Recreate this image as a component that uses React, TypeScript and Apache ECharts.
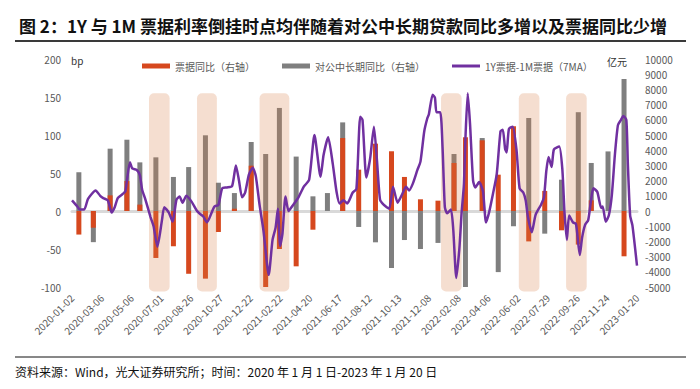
import React, { useEffect, useRef } from 'react';
import * as echarts from 'echarts';

// x axis: trading-day index, a label every 39 trading days
const xLabels = [
  '2020-01-02', '2020-03-06', '2020-05-06', '2020-07-01', '2020-08-26', '2020-10-27',
  '2020-12-22', '2021-02-22', '2021-04-20', '2021-06-17', '2021-08-12', '2021-10-13',
  '2021-12-08', '2022-02-08', '2022-04-06', '2022-06-02', '2022-07-29', '2022-09-26',
  '2022-11-24', '2023-01-20',
];
const labelStep = 39;
const lastIndex = 741;

// monthly bars (trading-day index of each monthly release)
const barIdx = [9, 28, 50, 72, 89, 110, 133, 153, 175, 192, 213, 235, 254, 272, 294, 316, 335, 355,
  376, 398, 419, 436, 457, 480, 501, 516, 538, 559, 579, 599, 620, 642, 664, 681, 703, 724];
// 票据同比（亿元）
const billYoY = [-1550, -1100, 1030, 1970, 420, -3090, -2320, -4130, -4450, -1380, 150, 2980,
  -5000, -2500, -3640, -1230, 0, 4800, 2720, 4430, 3930, 2240, 770, 680,
  3160, 4850, 4650, 2390, 5570, -2000, 1320, -1270, -2210, 700, 0, -2980];
// 对公中长期同比（亿元）
const loanYoY = [2550, -2050, 4100, 4690, 3200, 3530, 2240, 2890, 4980, 1860, 1180, 4540,
  3750, 6780, 3580, 965, 1180, 5830, -1050, -2060, -3750, -1910, -2500, -2100,
  3750, -5000, 4800, -4020, -1010, 6120, -1490, 2060, 6500, 3160, 3920, 8680];

// 1Y票据-1M票据（7MA），bp
const spreadIdx = [0, 7, 10, 16, 21, 31, 37, 41, 47, 52, 56, 60, 66, 70, 72, 76, 79, 85, 89, 92, 96,
  103, 107, 112, 118, 121, 127, 132, 137, 141, 145, 150, 157, 164, 168, 172, 177, 184, 187, 192, 197,
  203, 210, 215, 219, 223, 227, 232, 237, 241, 246, 251, 258, 263, 267, 270, 273, 276, 280, 284, 290,
  297, 304, 311, 318, 326, 330, 336, 342, 347, 351, 356, 361, 368, 373, 378, 381, 386, 391, 396, 400,
  404, 409, 416, 421, 427, 433, 438, 442, 447, 453, 457, 462, 466, 468, 473, 476, 478, 483, 486, 489,
  492, 497, 500, 504, 508, 511, 514, 516, 519, 522, 526, 529, 534, 539, 543, 547, 552, 557, 562, 565,
  568, 570, 573, 578, 583, 587, 592, 595, 598, 603, 608, 615, 619, 622, 625, 629, 632, 639, 643, 646,
  649, 652, 657, 661, 666, 669, 673, 677, 684, 689, 694, 696, 700, 704, 708, 712, 716, 720, 723, 727,
  729, 732, 735, 741];
const spreadVal = [14, 6, 2, 2, 16, 27, 20, 17, 14, -2, 5, 17, 22, 26, 40, 64, 56, 54, 47, 28, 16,
  -8, -20, -47, -12, 5, -2, -14, 15, 19, 11, 20, 12, 0, -4, -7, -15, 0, 6, 8, 30,
  31, 33, 60, 40, 18, 24, 48, 57, 46, 8, -25, -84, -38, -22, 3, -46, -30, 19, 0, 8,
  18, 32, 41, 100, 45, 74, 97, 62, 25, 10, 14, 10, 24, 29, 124, 120, 44, 69, 111, 66,
  15, 8, 3, 32, 11, 22, 32, 27, 36, 54, 65, 105, 122, 127, 153, 149, 130, 130, 83, 5,
  -3, 2, -24, -88, -50, -2, 35, 96, 155, 115, 40, 31, 38, 26, -15, -2, 22, 48, 105, 107,
  82, 77, 108, 111, 80, 30, 24, 14, -8, -28, -5, 8, 18, 52, 71, 58, 81, 85, 56, -3,
  -38, -6, -15, -17, -58, -35, -18, -12, 30, 25, 4, 6, -14, -6, 21, 74, 113, 120, 125, 120,
  62, -6, -19, -72];

// highlighted inversion periods (trading-day index ranges)
const highlightRanges = [[101, 128], [164, 190], [246, 285], [484, 511], [586, 613], [648, 675]];

const FONT = 'Noto Sans CJK SC';

export default function App() {
  const ref = useRef<HTMLDivElement>(null);
  useEffect(() => {
    document.body.style.margin = '0';
    const chart = echarts.init(ref.current!, null, { renderer: 'svg' });
    chart.setOption({
      animation: false,
      textStyle: { fontFamily: FONT },
      title: {
        text: '图 2：1Y 与 1M 票据利率倒挂时点均伴随着对公中长期贷款同比多增以及票据同比少增',
        left: 14,
        top: 12,
        textStyle: { fontSize: 17, fontWeight: 'bold', color: '#111', fontFamily: FONT },
      },
      legend: {
        data: [
          { name: '票据同比（右轴）', icon: 'rect' },
          { name: '对公中长期同比（右轴）', icon: 'rect' },
          { name: '1Y票据-1M票据（7MA）', icon: 'path://M0,0H28V3H0Z' },
        ],
        left: 137,
        top: 56,
        itemWidth: 28,
        itemHeight: 5,
        itemGap: 27,
        textStyle: { fontSize: 10, color: '#595959', fontFamily: FONT },
      },
      grid: { left: 72, right: 63, top: 59, bottom: 102 },
      xAxis: [
        {
          type: 'value',
          min: 0,
          max: lastIndex,
          interval: labelStep,
          position: 'bottom',
          axisLine: { show: false, onZero: false },
          axisTick: { show: false },
          splitLine: { show: false },
          axisLabel: {
            rotate: 45,
            fontSize: 10,
            color: '#595959',
            margin: 9,
            showMinLabel: true,
            showMaxLabel: true,
            formatter: (v: number) => xLabels[Math.round(v / labelStep)] ?? '',
          },
        },
        {
          type: 'value',
          min: 0,
          max: lastIndex,
          position: 'bottom',
          axisLine: { show: true, onZero: true, onZeroAxisIndex: 0, lineStyle: { color: '#d9d9d9', width: 3 } },
          axisTick: { show: false },
          axisLabel: { show: false },
          splitLine: { show: false },
        },
      ],
      yAxis: [
        {
          type: 'value',
          min: -100,
          max: 200,
          interval: 50,
          position: 'left',
          axisLine: { show: false },
          axisTick: { show: false },
          splitLine: { show: false },
          axisLabel: { fontSize: 10, color: '#595959', margin: 11 },
        },
        {
          type: 'value',
          min: -5000,
          max: 10000,
          interval: 1000,
          position: 'right',
          axisLine: { show: false },
          axisTick: { show: false },
          splitLine: { show: false },
          axisLabel: { fontSize: 10, color: '#595959', margin: 8, formatter: (v: number) => String(v) },
        },
      ],
      graphic: [
        { type: 'line', shape: { x1: 15, y1: 41, x2: 686, y2: 41 }, style: { stroke: '#3a3a3a', lineWidth: 2 } },
        { type: 'line', shape: { x1: 15, y1: 357, x2: 686, y2: 357 }, style: { stroke: '#111', lineWidth: 1 } },
        {
          type: 'text',
          x: 15,
          y: 371,
          style: {
            text: '资料来源：Wind，光大证券研究所；时间：2020 年 1 月 1 日-2023 年 1 月 20 日',
            fontSize: 12,
            fill: '#111',
            fontFamily: FONT,
            verticalAlign: 'middle',
          },
        },
        { type: 'text', x: 71, y: 60, style: { text: 'bp', fontSize: 10, fill: '#333', fontFamily: FONT, verticalAlign: 'middle' } },
        { type: 'text', x: 607, y: 61, style: { text: '亿元', fontSize: 10, fill: '#333', fontFamily: FONT, verticalAlign: 'middle' } },
      ],
      series: [
        {
          name: '对公中长期同比（右轴）',
          type: 'bar',
          xAxisIndex: 0,
          yAxisIndex: 1,
          data: barIdx.map((x, i) => [x, loanYoY[i]]),
          barWidth: 5,
          barGap: '-100%',
          itemStyle: { color: '#7f7f7f' },
          z: 2,
        },
        {
          name: '票据同比（右轴）',
          type: 'bar',
          xAxisIndex: 0,
          yAxisIndex: 1,
          data: barIdx.map((x, i) => [x, billYoY[i]]),
          barWidth: 5,
          barGap: '-100%',
          itemStyle: { color: '#d6481e' },
          z: 3,
        },
        {
          type: 'custom',
          xAxisIndex: 0,
          yAxisIndex: 0,
          silent: true,
          clip: false,
          z: 4,
          data: highlightRanges,
          renderItem: (params: any, api: any) => {
            const p1 = api.coord([api.value(0), 155]);
            const p2 = api.coord([api.value(1), -106]);
            return {
              type: 'rect',
              shape: { x: p1[0], y: p1[1], width: p2[0] - p1[0], height: p2[1] - p1[1], r: 5 },
              style: { fill: 'rgba(215,123,67,0.25)' },
            };
          },
        },
        {
          name: '1Y票据-1M票据（7MA）',
          type: 'line',
          xAxisIndex: 0,
          yAxisIndex: 0,
          data: spreadIdx.map((x, i) => [x, spreadVal[i]]),
          symbol: 'none',
          smooth: 0.2,
          lineStyle: { color: '#7030a0', width: 2.5 },
          itemStyle: { color: '#7030a0' },
          z: 5,
        },
      ],
    });
    return () => chart.dispose();
  }, []);
  return <div ref={ref} style={{ width: 700, height: 389 }} />;
}
